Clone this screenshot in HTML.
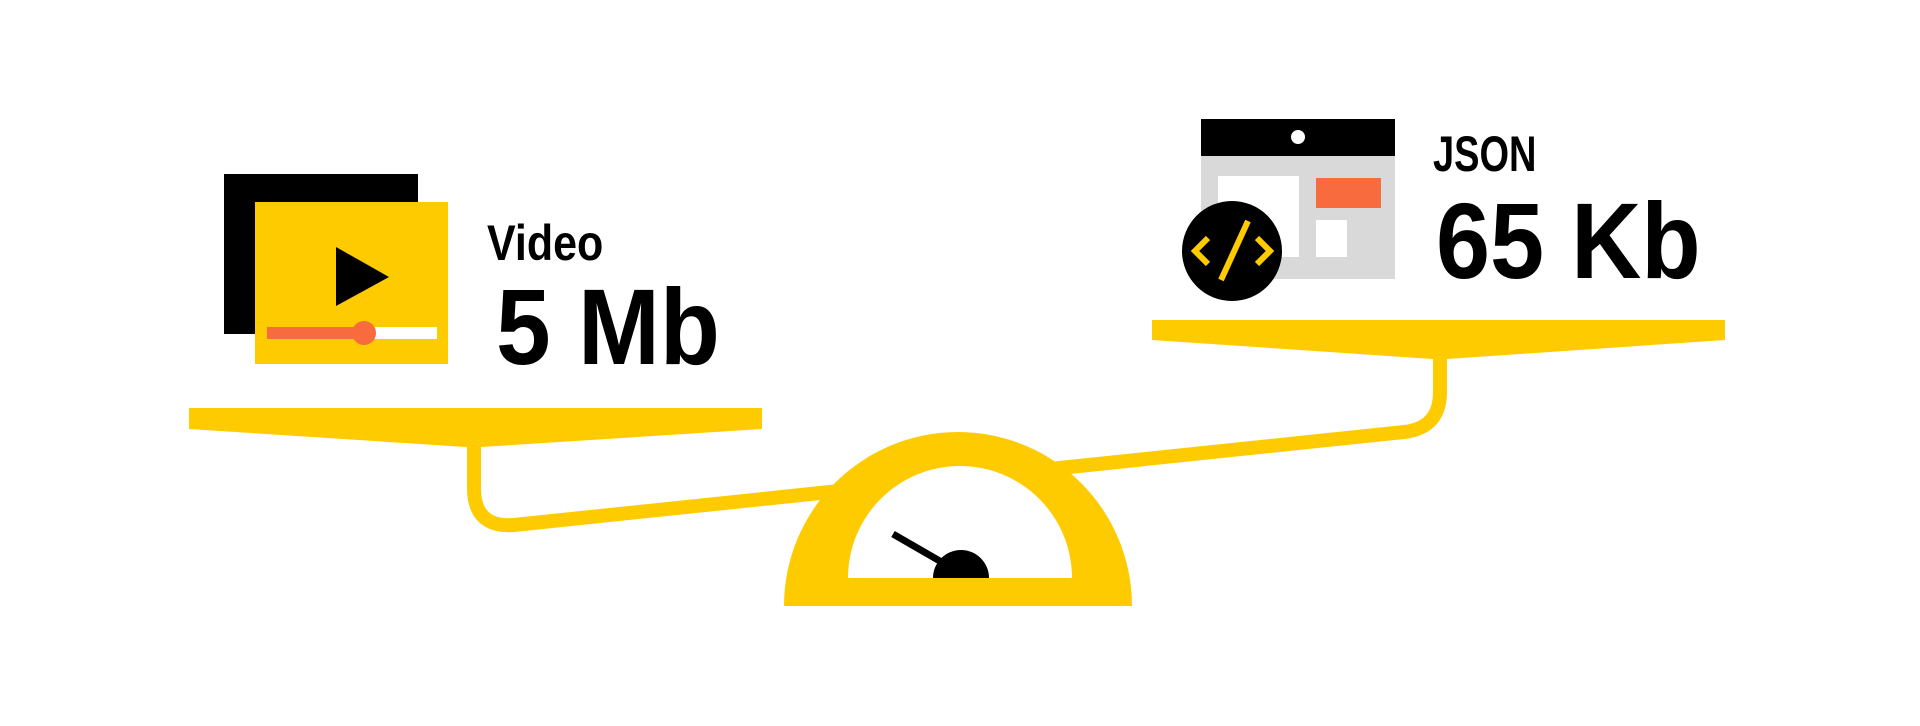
<!DOCTYPE html>
<html><head><meta charset="utf-8"><style>html,body{margin:0;padding:0;background:#fff}svg{display:block}</style></head>
<body>
<svg width="1920" height="726" viewBox="0 0 1920 726" xmlns="http://www.w3.org/2000/svg">
<rect width="1920" height="726" fill="#fff"/>
<!-- video icon -->
<rect x="224" y="174" width="194" height="160" fill="#000"/>
<rect x="255" y="202" width="193" height="162" fill="#fecb00"/>
<polygon points="336,247 389,277 336,306" fill="#000"/>
<rect x="267" y="327" width="170" height="12" fill="#fff"/>
<rect x="267" y="327" width="97" height="12" fill="#f76b3f"/>
<circle cx="364" cy="333" r="12" fill="#f76b3f"/>
<g font-family="Liberation Sans, sans-serif" font-weight="bold">
<text transform="translate(487,260) scale(0.86,1)" font-size="50">Video</text>
<text transform="translate(496,364) scale(0.91,1)" font-size="108">5 Mb</text>
<text transform="translate(1433,171) scale(0.76,1)" font-size="50">JSON</text>
<text transform="translate(1436,278) scale(0.9,1)" font-size="108">65 Kb</text>
</g>
<!-- json icon -->
<rect x="1201" y="156" width="194" height="123" fill="#d9d9d9"/>
<rect x="1201" y="119" width="194" height="37" fill="#000"/>
<circle cx="1298" cy="137" r="7" fill="#fff"/>
<rect x="1218" y="176" width="81" height="81" fill="#fff"/>
<rect x="1316" y="178" width="65" height="30" fill="#f76b3f"/>
<rect x="1316" y="220" width="31" height="37" fill="#fff"/>
<circle cx="1232" cy="251" r="50" fill="#000"/>
<g stroke="#fecb00" stroke-width="6" fill="none">
<polyline points="1208,238 1195,251 1208,264"/>
<polyline points="1257,238 1270,251 1257,264"/>
<line x1="1248" y1="221" x2="1221" y2="280"/>
</g>
<!-- pans -->
<polygon points="189,408 762,408 762,429 481,447 466,447 189,429" fill="#fecb00"/>
<polygon points="1152,320 1725,320 1725,340 1447,359 1433,359 1152,340" fill="#fecb00"/>
<!-- beam -->
<path d="M474,445 V488 Q474,528 514,525 L1404,432 Q1440,428 1440,392 V356" fill="none" stroke="#fecb00" stroke-width="14"/>
<!-- fulcrum -->
<path d="M784,606 A174,174 0 0 1 1132,606 Z" fill="#fecb00"/>
<path d="M848,578 A112,112 0 0 1 1072,578 Z" fill="#fff"/>
<line x1="893" y1="534" x2="945" y2="564" stroke="#000" stroke-width="7"/>
<path d="M933,578 A28,28 0 0 1 989,578 Z" fill="#000"/>
</svg>
</body></html>
